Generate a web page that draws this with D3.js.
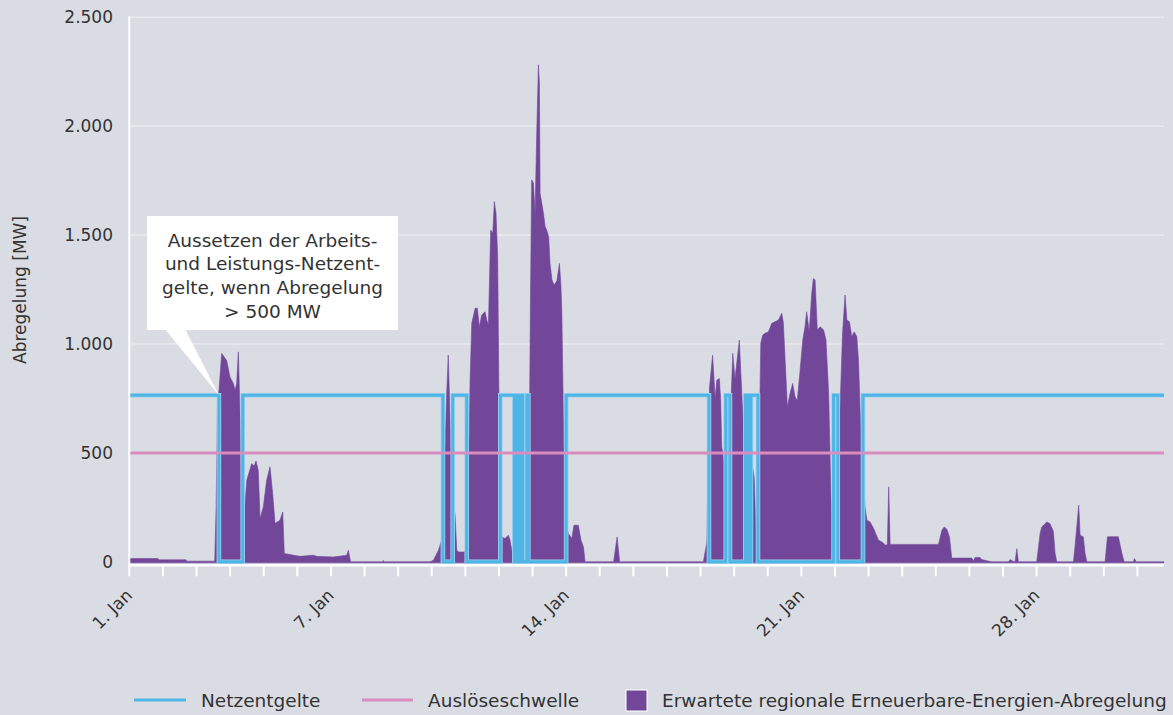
<!DOCTYPE html>
<html>
<head>
<meta charset="utf-8">
<script src="https://cdn.jsdelivr.net/npm/d3@7"></script>
<style>
  html, body { margin: 0; padding: 0; background: #d9dce3; }
  svg { display: block; font-family: "DejaVu Sans", sans-serif; }
</style>
</head>
<body>
<svg id="chart" width="1173" height="715"></svg>
<script>
// Abregelung [MW]: [hour since 1 Jan 00:00, MW]
const abregelung = [
  [0, 15], [20.5, 15], [21, 9], [40.5, 9], [41, 3], [60.5, 3], [61, 5], [62, 250], [63, 700],
  [66, 957], [69.6, 923], [71.9, 849], [74.3, 819], [75.5, 788], [76.7, 820], [77.9, 964],
  [79, 700], [79.8, 400], [81.9, 191], [83.9, 375], [87.4, 451], [89.1, 440], [90.5, 463],
  [92.1, 420], [93.4, 199], [95.7, 252], [98.1, 375], [100.5, 436], [102.4, 313], [104.1, 176],
  [107.6, 191], [109.6, 229], [110.7, 38], [121.9, 25], [131.4, 30], [133.9, 25], [145.7, 22],
  [155.3, 30], [156.4, 53], [158.1, 0],
  [181, 0], [181.5, 6], [182, 0],
  [214.8, 0], [217.2, 7], [220.8, 53], [223.1, 99], [225.5, 528], [226.6, 757], [227.8, 949],
  [229, 681], [230.3, 375], [231.4, 252], [232.6, 221], [233.9, 53], [235.1, 45], [239.8, 45],
  [241, 68], [242.2, 375], [243.4, 834], [244.6, 1095], [247, 1164], [248.6, 1164], [250, 1079],
  [251.7, 1133], [254.1, 1148], [255.3, 1110], [256.5, 1087], [258.1, 1523], [259.6, 1508],
  [260.7, 1654], [261.9, 1600], [263.1, 1400], [264.1, 700], [265.1, 150], [266, 114],
  [268.4, 107], [270.7, 122], [271.9, 99], [274.4, 10], [275.5, 589], [276.7, 650], [279.1, 700],
  [281.5, 696], [283.4, 589], [284.4, 450], [285.5, 400], [286.5, 1200], [287.4, 1753],
  [288.6, 1740], [289.8, 1600], [291, 1968], [292.2, 2282], [292.9, 2198], [293.4, 1692],
  [294.6, 1646], [295.8, 1600], [297, 1539], [298.1, 1523], [299.5, 1493], [300.5, 1370],
  [301.9, 1294], [303.4, 1271], [305.4, 1290], [307.2, 1370], [308.2, 1278], [308.9, 1156],
  [310, 681], [311.2, 221], [312.4, 150], [313.6, 130], [316, 107], [317.6, 168], [320.7, 168],
  [322.6, 99], [324.4, 68], [325.5, 0],
  [345.9, 0], [348.4, 114], [350.2, 0],
  [410, 0], [412.5, 90], [414.4, 800], [416.6, 949], [418.4, 750], [419.6, 834], [421.4, 842],
  [422.4, 742], [423.1, 528], [423.9, 497], [425.5, 405], [426.7, 344], [427.1, 329], [429.1, 620],
  [431, 957], [432.6, 840], [435.7, 1018], [437.4, 780], [439.3, 528], [440.5, 490], [442.6, 470],
  [444.6, 451], [446.3, 390], [447.6, 145], [449.3, 300], [451, 1003], [452.4, 1041], [454.1, 1049],
  [456.5, 1056], [458.9, 1095], [461.2, 1102], [463.6, 1110], [466, 1141], [467.1, 1100],
  [468.4, 926], [470, 711], [471.9, 773], [473.8, 819], [475.5, 757], [477.1, 742], [479.1, 880],
  [481, 1018], [482.6, 1079], [483.8, 1148], [485.6, 1056], [487.4, 1233], [488.6, 1301],
  [489.8, 1294], [491.4, 1064], [493.4, 1079], [495.9, 1064], [497.6, 1018], [499.5, 773],
  [501.1, 313], [502.6, 130], [504.1, 191], [505.8, 283], [507.6, 700], [509.4, 1049],
  [511.2, 1225], [512.5, 1110], [514.4, 1102], [516, 1033], [517.7, 1056], [519.6, 1033],
  [520.8, 926], [522, 696], [523.1, 528], [524.4, 350], [525.5, 252], [526.8, 191], [529.1, 183],
  [531.6, 153], [535.1, 99], [537.6, 91], [540.2, 76], [541.4, 80], [542.4, 344], [543.4, 80],
  [577.9, 80], [580.4, 145], [582, 160], [583.9, 150], [585.8, 114], [587.4, 17], [601.7, 17],
  [602.9, 5], [604.1, 20], [607.6, 20], [608.8, 10], [612.4, 5], [616, 0],
  [627.9, 0], [629.1, 10], [631, 3], [632.6, 0], [633.9, 60], [635, 0],
  [648.1, 0], [650.5, 130], [651.7, 160], [655.3, 183], [657.6, 175], [660, 140], [661.2, 40], [662.4, 0],
  [674.3, 0], [675.5, 75], [678.1, 260], [679.1, 122], [681.4, 115], [682.6, 40], [683.9, 0],
  [696.9, 0], [698.6, 115], [706.4, 115], [708.9, 40], [710.5, 0],
  [717.1, 0], [717.9, 15], [719.1, 0], [739, 0]
];

// Netzentgelte (step): [hour, level]
const netzentgelte = [
  [0, 765], [64, 0], [81, 765], [224, 0], [231, 765], [241, 0], [265, 765], [275, 0],
  [277, 765], [279, 0], [280, 765], [281, 0], [284, 765], [285, 0], [312, 765], [414, 0],
  [426, 765], [429, 0], [440, 765], [442, 0], [444, 765], [449, 0], [503, 765], [506, 0],
  [524, 765], [739, 765]
];

const schwelle = 500;
const yTicks = [0, 500, 1000, 1500, 2000, 2500];
const dayTicks = d3.range(0, 31).map(d => d * 24);
const dayLabels = [[0, '1. Jan'], [144, '7. Jan'], [312, '14. Jan'], [480, '21. Jan'], [648, '28. Jan']];
const noteLines = ['Aussetzen der Arbeits-', 'und Leistungs-Netzent-', 'gelte, wenn Abregelung', '> 500 MW'];

const purple = '#72479a';
const blue = '#4fb5e6';
const pink = '#d98cbe';
const textCol = '#333';

const svg = d3.select('#chart');
const x = d3.scaleLinear().domain([0, 739]).range([129.3, 1164]);
const y = d3.scaleLinear().domain([0, 2500]).range([561.8, 17.3]);

// gridlines
svg.append('g')
  .selectAll('line')
  .data(yTicks.filter(d => d > 0))
  .join('line')
    .attr('x1', x(0)).attr('x2', x(739))
    .attr('y1', d => y(d)).attr('y2', d => y(d))
    .attr('stroke', '#e8e9ed')
    .attr('stroke-width', 1.6);

// y tick labels
svg.append('g')
  .selectAll('text')
  .data(yTicks)
  .join('text')
    .attr('x', 113)
    .attr('y', d => y(d) + 6)
    .attr('text-anchor', 'end')
    .attr('font-size', 17)
    .attr('fill', textCol)
    .text(d => d3.format(',')(d).replace(/,/g, '.'));

svg.append('text')
  .attr('transform', 'translate(26, 290) rotate(-90)')
  .attr('text-anchor', 'middle')
  .attr('font-size', 17)
  .attr('fill', textCol)
  .text('Abregelung [MW]');

// area
const area = d3.area()
  .x(d => x(d[0]))
  .y0(y(0) + 1)
  .y1(d => y(d[1]));
svg.append('path')
  .datum(abregelung)
  .attr('d', area)
  .attr('fill', purple)
  .attr('stroke', purple)
  .attr('stroke-width', 0.6);

// Netzentgelte step line
const stepLine = d3.line()
  .x(d => x(d[0]))
  .y(d => y(d[1]))
  .curve(d3.curveStepAfter);
svg.append('path')
  .datum(netzentgelte)
  .attr('d', stepLine)
  .attr('fill', 'none')
  .attr('stroke', '#9fd2ee')
  .attr('stroke-width', 4.6);
svg.append('path')
  .datum(netzentgelte)
  .attr('d', stepLine)
  .attr('fill', 'none')
  .attr('stroke', blue)
  .attr('stroke-width', 3);

// Auslöseschwelle
svg.append('line')
  .attr('x1', x(0)).attr('x2', x(739))
  .attr('y1', y(schwelle)).attr('y2', y(schwelle))
  .attr('stroke', pink)
  .attr('stroke-width', 3);

// axes lines
const axisY = y(0) + 3.5;
svg.append('line')
  .attr('x1', x(0)).attr('x2', x(0))
  .attr('y1', y(2500) - 1).attr('y2', axisY)
  .attr('stroke', '#fff').attr('stroke-width', 2);
svg.append('line')
  .attr('x1', x(0) - 1).attr('x2', x(739))
  .attr('y1', axisY).attr('y2', axisY)
  .attr('stroke', '#fff').attr('stroke-width', 2.5);
svg.append('g')
  .selectAll('line')
  .data(dayTicks)
  .join('line')
    .attr('x1', d => x(d)).attr('x2', d => x(d))
    .attr('y1', axisY).attr('y2', axisY + 11)
    .attr('stroke', '#fff').attr('stroke-width', 2);

svg.append('g')
  .selectAll('text')
  .data(dayLabels)
  .join('text')
    .attr('transform', d => `translate(${x(d[0]) + 4}, ${axisY + 31}) rotate(-45)`)
    .attr('text-anchor', 'end')
    .attr('font-size', 17)
    .attr('fill', textCol)
    .text(d => d[1]);

// annotation
const note = svg.append('g');
note.append('path')
  .attr('d', `M165,329 L185,329 L${x(64)},${y(765)} Z`)
  .attr('fill', '#fff');
note.append('rect')
  .attr('x', 147).attr('y', 216)
  .attr('width', 251).attr('height', 114)
  .attr('fill', '#fff');
note.selectAll('text')
  .data(noteLines)
  .join('text')
    .attr('x', 272.5)
    .attr('y', (d, i) => 246.5 + i * 23.8)
    .attr('text-anchor', 'middle')
    .attr('font-size', 18.5)
    .attr('fill', textCol)
    .text(d => d);

// legend
const lg = svg.append('g').attr('font-size', 18.5).attr('fill', textCol);
lg.append('line').attr('x1', 134).attr('x2', 186).attr('y1', 700).attr('y2', 700)
  .attr('stroke', blue).attr('stroke-width', 3);
lg.append('text').attr('x', 201).attr('y', 706.5).text('Netzentgelte');
lg.append('line').attr('x1', 362).attr('x2', 413).attr('y1', 700).attr('y2', 700)
  .attr('stroke', pink).attr('stroke-width', 3);
lg.append('text').attr('x', 428).attr('y', 706.5).text('Auslöseschwelle');
lg.append('rect').attr('x', 626).attr('y', 690).attr('width', 21).attr('height', 21)
  .attr('fill', purple).attr('stroke', '#fff').attr('stroke-width', 1);
lg.append('text').attr('x', 662).attr('y', 706.5).text('Erwartete regionale Erneuerbare-Energien-Abregelung');
</script>
</body>
</html>
